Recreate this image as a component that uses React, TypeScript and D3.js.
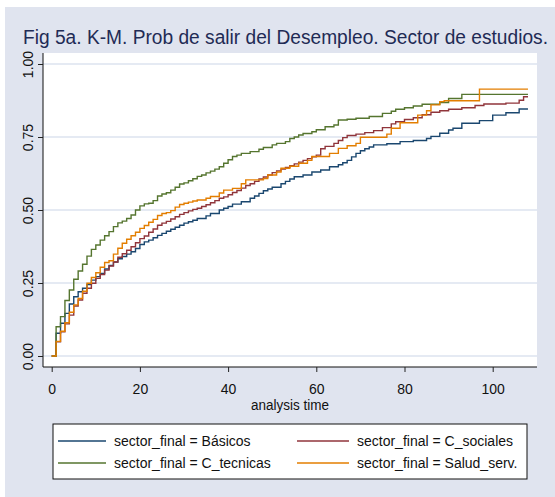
import React, { useEffect, useRef } from 'react';
import * as d3 from 'd3';

// Kaplan-Meier estimates [time, prob]
const basicos: [number, number][] = [
  [0, 0], [1, 0.078], [2, 0.112], [3, 0.146], [4, 0.178], [5, 0.203], [6, 0.22], [7, 0.232], [8, 0.245], [9, 0.26],
  [10, 0.272], [11, 0.283], [12, 0.298], [13, 0.31], [14, 0.322], [15, 0.333], [16, 0.341], [17, 0.349], [18, 0.357],
  [19, 0.368], [20, 0.382], [21, 0.391], [22, 0.397], [23, 0.405], [24, 0.413], [25, 0.42], [26, 0.427], [27, 0.434],
  [28, 0.441], [29, 0.448], [30, 0.455], [31, 0.46], [32, 0.465], [33, 0.471], [35, 0.48], [36, 0.488], [38, 0.5],
  [39, 0.506], [40, 0.512], [41, 0.52], [43, 0.528], [45, 0.54], [46, 0.548], [47, 0.557], [48, 0.566], [49, 0.572],
  [50, 0.578], [52, 0.59], [53, 0.598], [54, 0.606], [55, 0.614], [57, 0.62], [59, 0.63], [61, 0.637], [63, 0.648],
  [65, 0.655], [66, 0.662], [67, 0.67], [68, 0.682], [69, 0.694], [70, 0.703], [71, 0.71], [72, 0.716], [73, 0.723],
  [76, 0.727], [79, 0.734], [82, 0.738], [85, 0.745], [86, 0.752], [88, 0.763], [90, 0.774], [91, 0.78], [93, 0.797],
  [97, 0.806], [100, 0.825], [103, 0.833], [106, 0.846], [108, 0.846],
];

const cSociales: [number, number][] = [
  [0, 0], [1, 0.049], [2, 0.083], [3, 0.11], [4, 0.14], [5, 0.171], [6, 0.192], [7, 0.215], [8, 0.232], [9, 0.249],
  [10, 0.266], [11, 0.279], [12, 0.294], [13, 0.308], [14, 0.322], [15, 0.338], [16, 0.35], [17, 0.362], [18, 0.374],
  [19, 0.388], [20, 0.402], [21, 0.411], [22, 0.424], [23, 0.435], [24, 0.448], [25, 0.455], [26, 0.461], [27, 0.469],
  [28, 0.477], [29, 0.485], [30, 0.491], [31, 0.497], [32, 0.502], [33, 0.506], [34, 0.512], [35, 0.518], [36, 0.525],
  [37, 0.532], [38, 0.54], [39, 0.545], [40, 0.552], [41, 0.56], [42, 0.567], [43, 0.575], [44, 0.584], [45, 0.59],
  [46, 0.598], [47, 0.606], [48, 0.613], [49, 0.62], [50, 0.628], [51, 0.634], [52, 0.64], [53, 0.646], [54, 0.652],
  [55, 0.658], [56, 0.664], [57, 0.67], [58, 0.676], [59, 0.682], [60, 0.688], [61, 0.71], [62, 0.718], [64, 0.728],
  [65, 0.738], [66, 0.748], [67, 0.755], [69, 0.76], [71, 0.765], [73, 0.772], [75, 0.782], [77, 0.795], [78, 0.802],
  [80, 0.81], [82, 0.816], [84, 0.826], [86, 0.835], [88, 0.84], [90, 0.845], [93, 0.85], [96, 0.858], [98, 0.863],
  [103, 0.866], [106, 0.876], [107, 0.888], [108, 0.888],
];

const cTecnicas: [number, number][] = [
  [0, 0], [1, 0.1], [2, 0.135], [3, 0.19], [4, 0.226], [5, 0.263], [6, 0.291], [7, 0.314], [8, 0.342], [9, 0.365],
  [10, 0.38], [11, 0.397], [12, 0.412], [13, 0.426], [14, 0.443], [15, 0.456], [16, 0.462], [17, 0.471], [18, 0.483],
  [19, 0.5], [20, 0.514], [21, 0.521], [22, 0.523], [23, 0.532], [24, 0.548], [25, 0.555], [26, 0.559], [27, 0.568],
  [28, 0.578], [29, 0.589], [30, 0.593], [31, 0.6], [32, 0.607], [33, 0.615], [34, 0.62], [35, 0.627], [36, 0.633],
  [37, 0.64], [38, 0.648], [39, 0.66], [40, 0.672], [41, 0.683], [42, 0.688], [43, 0.694], [45, 0.7], [47, 0.708],
  [48, 0.714], [50, 0.723], [51, 0.728], [53, 0.734], [54, 0.745], [55, 0.75], [56, 0.757], [57, 0.762], [59, 0.768],
  [60, 0.775], [62, 0.785], [64, 0.791], [65, 0.808], [67, 0.811], [69, 0.814], [72, 0.82], [75, 0.831], [77, 0.838],
  [78, 0.845], [80, 0.85], [82, 0.856], [84, 0.862], [88, 0.868], [90, 0.882], [93, 0.896], [108, 0.896],
];

const saludServ: [number, number][] = [
  [0, 0], [1, 0.05], [2, 0.085], [3, 0.114], [4, 0.15], [5, 0.175], [6, 0.197], [7, 0.222], [8, 0.249], [9, 0.269],
  [10, 0.285], [11, 0.304], [12, 0.32], [13, 0.326], [14, 0.349], [15, 0.369], [16, 0.386], [17, 0.4], [18, 0.412],
  [19, 0.424], [20, 0.437], [21, 0.447], [22, 0.458], [23, 0.468], [24, 0.481], [25, 0.488], [26, 0.491], [27, 0.498],
  [28, 0.51], [29, 0.519], [30, 0.523], [31, 0.527], [32, 0.531], [33, 0.534], [35, 0.54], [36, 0.546], [38, 0.558],
  [39, 0.568], [41, 0.574], [43, 0.59], [44, 0.603], [48, 0.608], [49, 0.62], [51, 0.63], [52, 0.643], [54, 0.65],
  [56, 0.66], [58, 0.67], [59, 0.683], [63, 0.694], [65, 0.711], [67, 0.72], [69, 0.728], [70, 0.749], [76, 0.76],
  [77, 0.78], [79, 0.799], [83, 0.825], [85, 0.84], [86, 0.86], [88, 0.871], [89, 0.874], [97, 0.914], [108, 0.914],
];

const seriesNames = ['sector_final = Básicos', 'sector_final = C_sociales', 'sector_final = C_tecnicas', 'sector_final = Salud_serv.'];
const seriesColors = ['#1a476f', '#90353b', '#55752f', '#e37e00'];
const xTicks = [0, 20, 40, 60, 80, 100];
const yTicks = [0, 0.25, 0.5, 0.75, 1];

const W = 555;
const H = 497;
const plot = { left: 43, right: 537, top: 53, bottom: 367 };
const font = '"Liberation Sans", Arial, sans-serif';
const titleSquash = 0.86;

const App: React.FC = () => {
  const xAxisRef = useRef<SVGGElement>(null);
  const yAxisRef = useRef<SVGGElement>(null);

  const x = d3.scaleLinear().domain([0, 100]).range([51.7, 492.7]);
  const y = d3.scaleLinear().domain([0, 1]).range([356, 64]);
  const line = d3.line<[number, number]>()
    .x((d) => x(d[0]))
    .y((d) => y(d[1]))
    .curve(d3.curveStepAfter);

  const allSeries = [basicos, cSociales, cTecnicas, saludServ];

  useEffect(() => {
    const gx = d3.select(xAxisRef.current);
    gx.call(d3.axisBottom(x).tickValues(xTicks).tickSize(5).tickPadding(12).tickFormat(d3.format('d')));
    gx.select('.domain').remove();
    gx.selectAll('line').attr('stroke', '#222');
    gx.selectAll('text').attr('font-size', 14).attr('font-family', font).attr('fill', '#111');

    const gy = d3.select(yAxisRef.current);
    gy.call(d3.axisLeft(y).tickValues(yTicks).tickSize(5).tickFormat(d3.format('.2f')));
    gy.select('.domain').remove();
    gy.selectAll('line').attr('stroke', '#222');
    gy.selectAll('text')
      .attr('font-size', 14)
      .attr('font-family', font)
      .attr('fill', '#111')
      .attr('text-anchor', 'middle')
      .attr('x', 0)
      .attr('y', -10)
      .attr('dy', null)
      .attr('transform', 'rotate(-90)');
  }, []);

  const legendRows = [441, 463];
  const legendCols = [{ l1: 58, l2: 106, tx: 114 }, { l1: 297, l2: 349, tx: 357 }];

  return (
    <div style={{ position: 'fixed', left: 0, top: 0 }}>
      <svg width={W} height={H} style={{ display: 'block' }}>
        <rect x={0} y={0} width={W} height={H} fill="#ffffff" />
        <rect x={5} y={7} width={W - 5} height={H - 7} fill="#e0e4ef" />
        <g transform={`translate(23,44) scale(${titleSquash},1)`}>
          <text x={0} y={0} fontSize={21} fontFamily={font} fill="#1f2b55" textLength={525 / titleSquash} lengthAdjust="spacingAndGlyphs">
            Fig 5a. K-M. Prob de salir del Desempleo. Sector de estudios.
          </text>
        </g>
        <rect x={plot.left} y={plot.top} width={plot.right - plot.left} height={plot.bottom - plot.top} fill="#ffffff" />
        {yTicks.map((t) => (
          <line key={t} x1={plot.left} x2={plot.right} y1={y(t)} y2={y(t)} stroke="#dde3ef" strokeWidth={1.4} />
        ))}
        {allSeries.map((s, i) => (
          <path key={i} d={line(s) ?? ''} fill="none" stroke={seriesColors[i]} strokeWidth={1.4} />
        ))}
        <line x1={plot.left} x2={plot.left} y1={plot.top} y2={plot.bottom} stroke="#111" strokeWidth={1} />
        <line x1={plot.left} x2={plot.right} y1={plot.bottom} y2={plot.bottom} stroke="#111" strokeWidth={1} />
        <g ref={xAxisRef} transform={`translate(0,${plot.bottom})`} />
        <g ref={yAxisRef} transform={`translate(${plot.left},0)`} />
        <text x={290} y={410} fontSize={14} fontFamily={font} fill="#111" textAnchor="middle" textLength={78} lengthAdjust="spacingAndGlyphs">
          analysis time
        </text>
        <rect x={53} y={424} width={474} height={55} fill="#ffffff" stroke="#111" strokeWidth={1} />
        {seriesNames.map((name, i) => {
          const row = legendRows[Math.floor(i / 2)];
          const col = legendCols[i % 2];
          return (
            <g key={name}>
              <line x1={col.l1} x2={col.l2} y1={row} y2={row} stroke={seriesColors[i]} strokeWidth={1.4} />
              <text x={col.tx} y={row + 5} fontSize={14} fontFamily={font} fill="#111">{name}</text>
            </g>
          );
        })}
      </svg>
    </div>
  );
};

export default App;
